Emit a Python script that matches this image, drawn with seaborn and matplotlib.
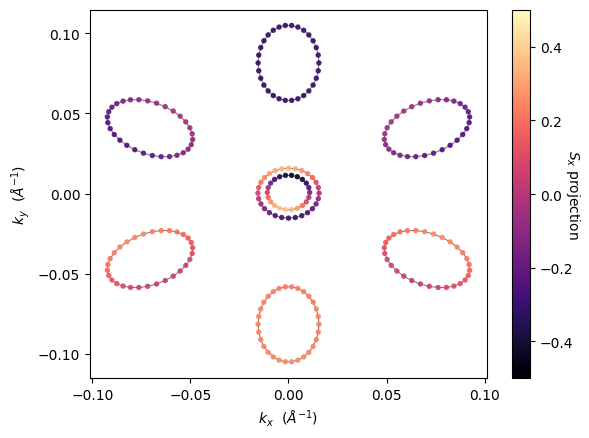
import numpy as np
import pandas as pd
import matplotlib
matplotlib.use("Agg")
import matplotlib.pyplot as plt
import seaborn as sns

# ring geometry (centre, local semi-axes, tilt in degrees)
ring_names = ["top", "upper_left", "lower_left", "bottom", "lower_right", "upper_right", "outer", "inner"]
center_x = [0.0, -0.0706, -0.0706, 0.0, 0.0706, 0.0706, 0.0, 0.0]
center_y = [0.0815, 0.0408, -0.0408, -0.0815, -0.0408, 0.0408, 0.0003, 0.0007]
semi_t = [0.0155, 0.0155, 0.0155, 0.0155, 0.0155, 0.0155, 0.0156, 0.0108]
semi_r = [0.0235, 0.0235, 0.0235, 0.0235, 0.0235, 0.0235, 0.0156, 0.0108]
tilt = [0, 60, 120, 180, 240, 300, 0, 0]

# S_x projection for every point, going round each ring
sx_top = [-0.31, -0.31, -0.31, -0.32, -0.32, -0.32, -0.32, -0.32, -0.33, -0.33,
          -0.33, -0.33, -0.33, -0.33, -0.33, -0.33, -0.33, -0.33, -0.33, -0.33,
          -0.33, -0.32, -0.32, -0.32, -0.32, -0.32, -0.31, -0.31, -0.31, -0.31]
sx_upper_left = [-0.06, -0.08, -0.09, -0.11, -0.13, -0.15, -0.17, -0.19, -0.21, -0.22,
                 -0.24, -0.25, -0.25, -0.25, -0.25, -0.24, -0.22, -0.21, -0.19, -0.17,
                 -0.15, -0.13, -0.11, -0.09, -0.08, -0.06, -0.05, -0.05, -0.05, -0.05]
sx_lower_left = [0.25, 0.25, 0.24, 0.23, 0.22, 0.20, 0.18, 0.16, 0.14, 0.12,
                 0.10, 0.08, 0.06, 0.05, 0.04, 0.04, 0.04, 0.05, 0.06, 0.08,
                 0.10, 0.12, 0.14, 0.16, 0.18, 0.20, 0.22, 0.23, 0.24, 0.25]
sx_bottom = [0.24, 0.24, 0.24, 0.24, 0.25, 0.25, 0.25, 0.25, 0.25, 0.25,
             0.25, 0.25, 0.25, 0.24, 0.24, 0.24, 0.24, 0.24, 0.23, 0.23,
             0.23, 0.23, 0.23, 0.23, 0.23, 0.23, 0.24, 0.24, 0.24, 0.24]
sx_lower_right = [0.04, 0.04, 0.05, 0.06, 0.08, 0.10, 0.12, 0.14, 0.16, 0.18,
                  0.20, 0.22, 0.23, 0.24, 0.25, 0.25, 0.25, 0.24, 0.23, 0.22,
                  0.20, 0.18, 0.16, 0.14, 0.12, 0.10, 0.08, 0.06, 0.05, 0.04]
sx_upper_right = [-0.24, -0.25, -0.25, -0.25, -0.25, -0.24, -0.22, -0.21, -0.19, -0.17,
                  -0.15, -0.13, -0.11, -0.09, -0.08, -0.06, -0.05, -0.05, -0.05, -0.05,
                  -0.06, -0.08, -0.09, -0.11, -0.13, -0.15, -0.17, -0.19, -0.21, -0.22]
sx_outer = [-0.03, 0.04, 0.12, 0.18, 0.24, 0.29, 0.32, 0.34, 0.34, 0.33,
            0.30, 0.26, 0.21, 0.14, 0.07, 0.00, -0.08, -0.14, -0.20, -0.25,
            -0.28, -0.30, -0.30, -0.29, -0.26, -0.22, -0.17, -0.10]
sx_inner = [-0.13, -0.24, -0.33, -0.40, -0.44, -0.44, -0.41, -0.35, -0.27, -0.16,
            -0.05, 0.07, 0.18, 0.27, 0.34, 0.38, 0.38, 0.35, 0.29, 0.21,
            0.10, -0.01]
sx_all = [sx_top, sx_upper_left, sx_lower_left, sx_bottom,
          sx_lower_right, sx_upper_right, sx_outer, sx_inner]

rows = []
for i, name in enumerate(ring_names):
    sx = sx_all[i]
    n = len(sx)
    t = np.arange(n) * 2 * np.pi / n
    lx = semi_t[i] * np.cos(t)
    ly = semi_r[i] * np.sin(t)
    th = np.deg2rad(tilt[i])
    kx = center_x[i] + lx * np.cos(th) - ly * np.sin(th)
    ky = center_y[i] + lx * np.sin(th) + ly * np.cos(th)
    for j in range(n):
        rows.append({"ring": name, "kx": kx[j], "ky": ky[j], "Sx": sx[j], "order": j})
df = pd.DataFrame(rows)

# close the contour lines
first = df[df["order"] == 0].copy()
first["order"] = 10000
lines = pd.concat([df, first]).sort_values(["ring", "order"])

fig = plt.figure(figsize=(5.89, 4.39), dpi=100)
ax = fig.add_axes([0.1528, 0.1367, 0.674, 0.8382])
cax = fig.add_axes([0.8693, 0.1367, 0.0306, 0.8382])

sns.lineplot(data=lines, x="kx", y="ky", units="ring", estimator=None, sort=False,
             color="gray", lw=0.8, ax=ax, zorder=2)
sns.scatterplot(data=df, x="kx", y="ky", hue="Sx", palette="magma", hue_norm=(-0.5, 0.5),
                s=15, linewidth=0, alpha=0.92, legend=False, ax=ax, zorder=3)

ax.set_xlim(-0.1012, 0.1012)
ax.set_ylim(-0.115, 0.1145)
ax.set_xticks([-0.10, -0.05, 0.00, 0.05, 0.10])
ax.set_yticks([-0.10, -0.05, 0.00, 0.05, 0.10])
ax.set_xlabel(r"$k_x$  ($\AA^{-1}$)")
ax.set_ylabel(r"$k_y$  ($\AA^{-1}$)")

sm = plt.cm.ScalarMappable(cmap="magma", norm=plt.Normalize(-0.5, 0.5))
cbar = fig.colorbar(sm, cax=cax)
cbar.set_ticks([-0.4, -0.2, 0.0, 0.2, 0.4])
cbar.set_label(r"$S_x$ projection", rotation=270, labelpad=6)

fig.savefig("out.png", dpi=100)
